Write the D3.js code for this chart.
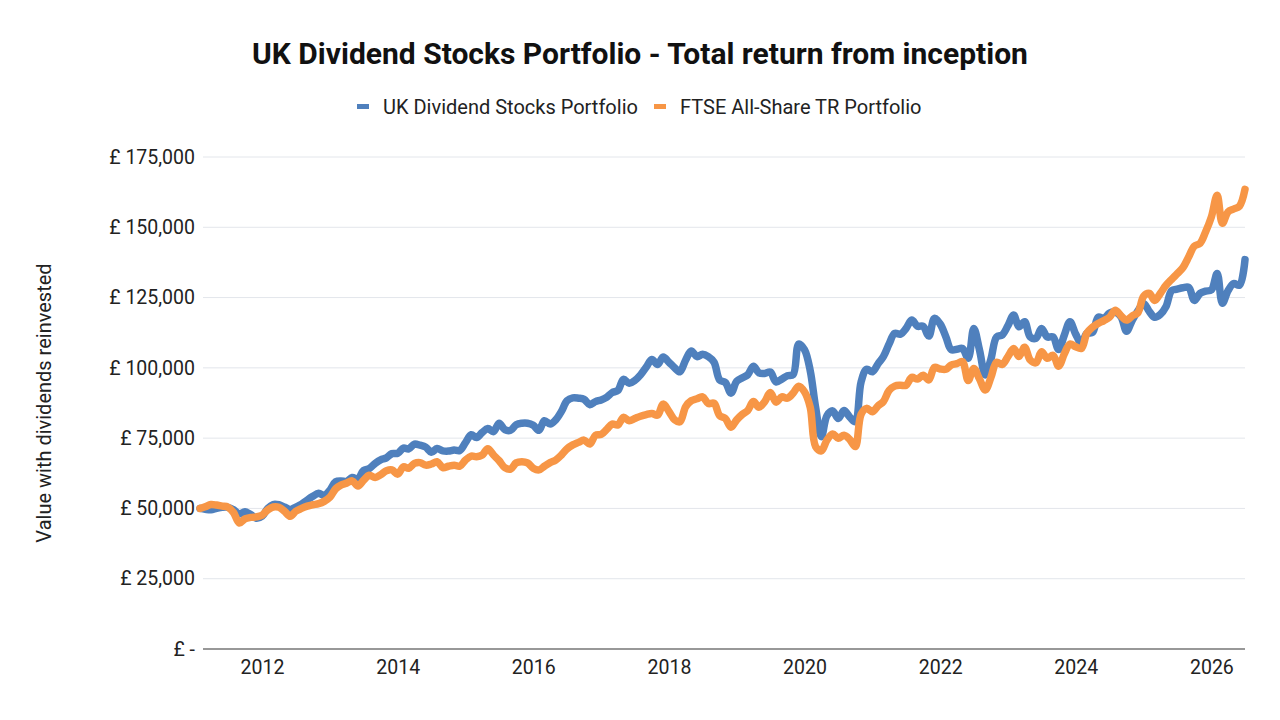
<!DOCTYPE html>
<html>
<head>
<meta charset="utf-8">
<script src="https://cdn.jsdelivr.net/npm/d3@7"></script>
<style>
  body { margin: 0; background: #fff; font-family: Roboto, "Noto Sans", sans-serif; }
  .grid line { stroke: #e3e6eb; stroke-width: 1; }
  .axis text { font-size: 19.5px; fill: #222; font-family: Roboto, sans-serif; }
</style>
</head>
<body>
<div id="wrapper"></div>
<script>
// monthly values, Feb 2011 .. Jul 2026
const startYear = 2011
const startMonth = 1
const seriesNames = ["UK Dividend Stocks Portfolio", "FTSE All-Share TR Portfolio"]
const seriesColors = ["#4f80bd", "#f79646"]
const ukDividend = [
  50000, 49700, 49500, 50000, 50400, 50400, 49500, 48000, 48800, 47800, 46500, 47200,
  50000, 51400, 51300, 50500, 49600, 50500, 51500, 53000, 54300, 55400, 54600, 56500,
  59500, 59800, 59600, 61000, 60500, 63500, 64200, 66000, 67300, 68000, 69500, 69600,
  71500, 71200, 72900, 72500, 71800, 70000, 71300, 70500, 70400, 70800, 70600, 73400,
  76200, 75200, 77000, 78400, 77300, 80300, 78000, 77800, 79800, 80300, 80300, 79600,
  77800, 81200, 80000, 81500, 84500, 88300, 89300, 89200, 88800, 86900, 88000, 88600,
  89600, 91200, 92000, 95900, 94500, 95500, 97500, 100300, 103000, 101200, 103900, 102000,
  100000, 98600, 102800, 106000, 104000, 104800, 104000, 102000, 95700, 94800, 91000, 95200,
  96500, 97500, 100600, 98200, 98000, 98500, 95000, 96000, 97200, 97600, 108500, 106500,
  99000, 86000, 75500, 83000, 84700, 82000, 84800, 82500, 80800, 95000, 99500, 98600,
  101500, 104000, 108500, 112300, 112000, 114000, 117000, 114800, 114800, 111300, 117600, 115600,
  111000, 106500, 106600, 106900, 103400, 114000, 106300, 97500, 103000, 111000, 111700, 115000,
  118800, 114600, 116400, 111000, 110500, 114000, 111000, 111000, 106500, 111700, 116400, 112000,
  108700, 112300, 112600, 118000, 117600, 119500, 119800, 118200, 113000, 117000, 120300, 122900,
  120000, 118000, 119000, 121700, 127500, 128000, 128500, 128600, 124000, 126500, 127300, 127700,
  133600, 123000, 127500, 130000, 129400, 138500
]
const ftseAllShare = [
  50000, 50600, 51400, 51200, 50800, 50500, 48500, 44800, 46300, 46800, 47000, 47600,
  49500, 50500, 50400, 49000, 47200, 49000, 50000, 50800, 51300, 51700, 52500, 54000,
  57000, 58300, 59000, 59800, 58000, 60000, 61800, 61000, 62000, 63400, 63700, 62200,
  64800, 64300, 66000, 66300, 65400, 65800, 66600, 64500, 65000, 65400, 65000, 67200,
  68600, 68400, 69000, 71200, 69000, 67000, 64500, 64000, 66200, 66600, 66200, 64300,
  63700, 65000, 66300, 67200, 69000, 71200, 72600, 73500, 74300, 72900, 76000, 76300,
  78200, 80000, 79700, 82400, 81200, 82000, 82800, 83400, 83800, 83200, 87100, 84500,
  81500, 80800, 86200, 88300, 89000, 89700, 87300, 87400, 83000, 82000, 78900, 81500,
  83500, 84800, 88000, 86000, 88000, 91200, 87800, 89700, 89200, 91000, 93500, 91500,
  86000, 72000, 70500, 74300, 76500, 75000, 76000, 74500, 72000, 83500, 85600, 84400,
  86500, 88000, 92000, 93500, 93800, 93800, 96600, 96000, 97400, 95700, 100200, 99600,
  99500, 101000, 101500, 102200, 95500, 99800, 96000, 92100, 96500, 102000, 101200, 104000,
  106900, 104000, 107300, 102800, 101800, 105700, 103400, 104500, 100600, 105000, 108500, 107500,
  106900, 112300, 114500, 115800, 116800, 118000, 120500, 118500, 117000, 118500, 119600, 125500,
  126500, 124000, 126500, 129300, 131500, 133500, 135700, 139500, 143300, 144300, 148400, 153700,
  161400, 151400, 155500, 156500, 157500, 163500
]
const yTicks = [0, 25000, 50000, 75000, 100000, 125000, 150000, 175000]
const xTickYears = [2012, 2014, 2016, 2018, 2020, 2022, 2024, 2026]

const dates = ukDividend.map((d, i) => new Date(startYear, startMonth + i, 1))
const series = [ukDividend, ftseAllShare].map((values, k) => ({
  name: seriesNames[k],
  color: seriesColors[k],
  points: values.map((v, i) => ({ date: dates[i], value: v }))
}))

let dimensions = {
  width: 1280,
  height: 720,
  margin: { top: 157, right: 35, bottom: 71, left: 200 }
}
dimensions.boundedWidth = dimensions.width - dimensions.margin.left - dimensions.margin.right
dimensions.boundedHeight = dimensions.height - dimensions.margin.top - dimensions.margin.bottom

const svg = d3.select("#wrapper")
  .append("svg")
    .attr("width", dimensions.width)
    .attr("height", dimensions.height)

const bounds = svg.append("g")
  .attr("transform", `translate(${dimensions.margin.left},${dimensions.margin.top})`)

const xScale = d3.scaleTime()
  .domain(d3.extent(dates))
  .range([0, dimensions.boundedWidth])

const yScale = d3.scaleLinear()
  .domain([0, 175000])
  .range([dimensions.boundedHeight, 0])

// gridlines
bounds.append("g")
  .attr("class", "grid")
  .selectAll("line")
  .data(yTicks.filter(d => d > 0))
  .enter().append("line")
    .attr("x1", 3)
    .attr("x2", dimensions.boundedWidth)
    .attr("y1", d => yScale(d))
    .attr("y2", d => yScale(d))

// y axis labels
const yFormat = d => d === 0 ? "£ -" : "£ " + d3.format(",")(d)
const yAxis = d3.axisLeft(yScale)
  .tickValues(yTicks)
  .tickFormat(yFormat)
  .tickSize(0)
  .tickPadding(5)
bounds.append("g")
  .attr("class", "axis")
  .call(yAxis)
  .call(g => g.select(".domain").remove())

// x axis labels
const xAxis = d3.axisBottom(xScale)
  .tickValues(xTickYears.map(y => new Date(y, 0, 1)))
  .tickFormat(d3.timeFormat("%Y"))
  .tickSize(0)
  .tickPadding(11)
bounds.append("g")
  .attr("class", "axis")
  .attr("transform", `translate(0,${dimensions.boundedHeight})`)
  .call(xAxis)
  .call(g => g.select(".domain").remove())

// baseline
bounds.append("line")
  .attr("x1", 3)
  .attr("x2", dimensions.boundedWidth)
  .attr("y1", yScale(0))
  .attr("y2", yScale(0))
  .attr("stroke", "#333")
  .attr("stroke-width", 1.2)

// lines
const lineGenerator = d3.line()
  .x(d => xScale(d.date))
  .y(d => yScale(d.value))
  .curve(d3.curveCatmullRom.alpha(0.5))

bounds.selectAll(".series")
  .data(series)
  .enter().append("path")
    .attr("class", "series")
    .attr("d", d => lineGenerator(d.points))
    .attr("fill", "none")
    .attr("stroke", d => d.color)
    .attr("stroke-width", 7.5)
    .attr("stroke-linejoin", "round")
    .attr("stroke-linecap", "round")

// title
svg.append("text")
  .attr("x", 640)
  .attr("y", 64)
  .attr("text-anchor", "middle")
  .style("font-size", "30px")
  .style("font-weight", "bold")
  .style("fill", "#111")
  .text("UK Dividend Stocks Portfolio - Total return from inception")

// legend
const legendItems = [
  { x: 357, textX: 383 },
  { x: 654, textX: 680 }
]
const legend = svg.append("g")
legend.selectAll("rect")
  .data(series)
  .enter().append("rect")
    .attr("x", (d, i) => legendItems[i].x)
    .attr("y", 104)
    .attr("width", 12)
    .attr("height", 5)
    .attr("fill", d => d.color)
legend.selectAll("text")
  .data(series)
  .enter().append("text")
    .attr("x", (d, i) => legendItems[i].textX)
    .attr("y", 114)
    .style("font-size", "20px")
    .style("fill", "#222")
    .text(d => d.name)

// y axis title
svg.append("text")
  .attr("transform", `translate(51,${dimensions.margin.top + dimensions.boundedHeight / 2}) rotate(-90)`)
  .attr("text-anchor", "middle")
  .style("font-size", "20px")
  .style("fill", "#222")
  .text("Value with dividends reinvested")
</script>
</body>
</html>
